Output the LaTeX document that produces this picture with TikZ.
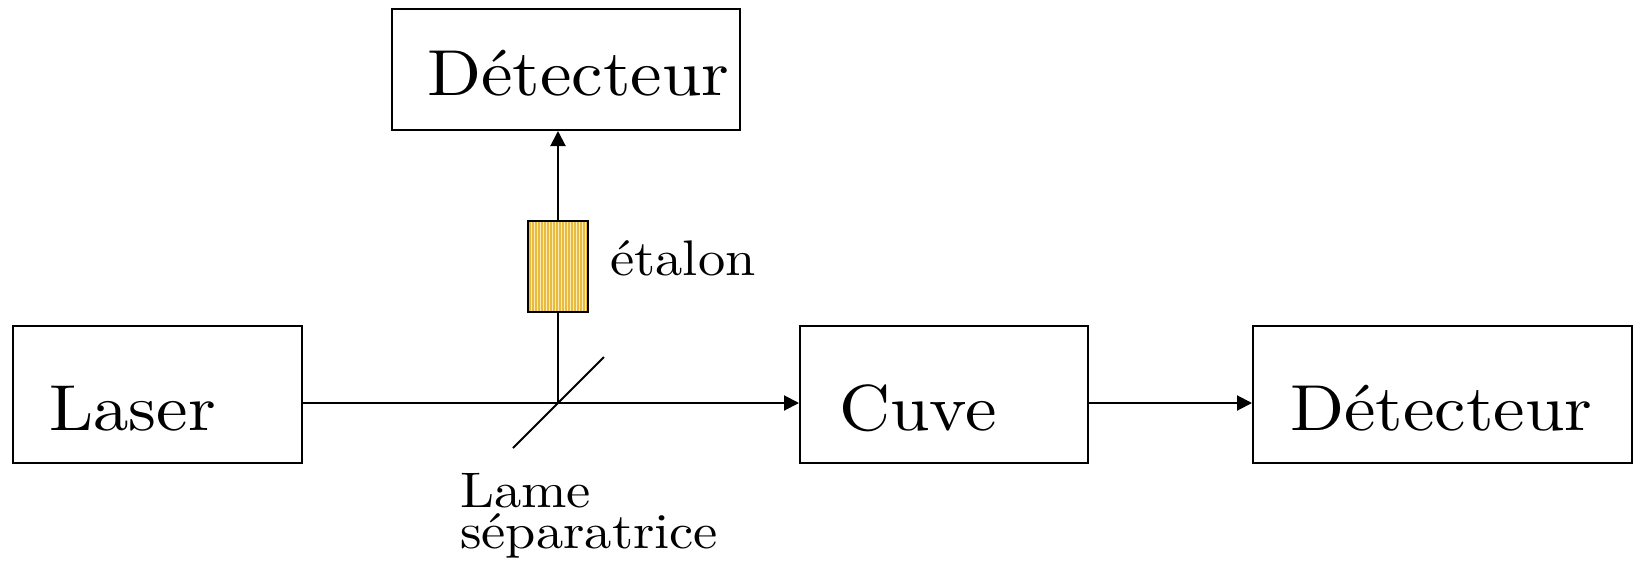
\documentclass[tikz,border=0pt]{standalone}
\usepackage{fontspec}
\setmainfont{lmroman10-regular.otf}[FakeStretch=1.09]
\usetikzlibrary{arrows.meta}

\newcommand\boxfont{\fontsize{65}{78}\selectfont}
\newcommand\notefont{\fontsize{50}{41}\selectfont}

\definecolor{etalongold}{RGB}{232,186,64}
\definecolor{etalonstripe}{RGB}{250,236,180}

\tikzset{
  blockbox/.style n args={4}{draw, line width=2pt, inner ysep=0pt,
    inner xsep=#1, text width=#2, text height=#3, text depth=#4,
    align=left, font=\boxfont},
  beam/.style={line width=2pt},
  ray/.style={beam, -{Triangle[length=15pt,width=15pt]}},
  note/.style={inner sep=0pt, font=\notefont},
}

\begin{document}
\begin{tikzpicture}[x=1pt, y=-1pt]
  \useasboundingbox (0,0) rectangle (1634,571);

  % blocks
  \node[blockbox={36pt}{217pt}{104pt}{33pt}] (laser) at (157.5,394.5) {Laser};
  \node[blockbox={39pt}{210pt}{104pt}{33pt}] (cuve) at (944,394.5) {Cuve};
  \node[blockbox={37pt}{305pt}{104pt}{33pt}] (det2) at (1442.5,394.5) {Détecteur};
  \node[blockbox={35pt}{278pt}{86pt}{35pt}] (det1) at (566,69.5) {Détecteur};

  % beam splitter
  \coordinate (lame) at (558,403);
  \coordinate (lameA) at (513,448);
  \coordinate (lameB) at (604,357);

  % etalon (striped plate)
  \node[draw, line width=2pt, fill=etalongold, minimum width=60pt,
        minimum height=91pt, inner sep=0pt,
        path picture={
          \foreach \k in {0,...,20}
            \draw[etalonstripe, line width=1pt]
              ([xshift={\k*3pt}]path picture bounding box.north west)
              -- ([xshift={\k*3pt}]path picture bounding box.south west);
        }] (etalon) at (558,266.5) {};

  % beams
  \draw[ray] (laser.east |- lame) -- (cuve.west |- lame);
  \draw[ray] (cuve.east |- lame) -- (det2.west |- lame);
  \draw[beam] (lame) -- (etalon.south);
  \draw[ray] (etalon.north) -- (etalon.north |- det1.south);
  \draw[beam] (lameA) -- (lameB);

  % labels
  \node[note, anchor=base west] (etalonlabel) at (610,275) {étalon};
  \node[note, anchor=base west] (lamelabel) at (460,507) {Lame};
  \node[note, anchor=base west, text height=30pt] (lamelabeltwo) at (460,548) {séparatrice};
\end{tikzpicture}
\end{document}
